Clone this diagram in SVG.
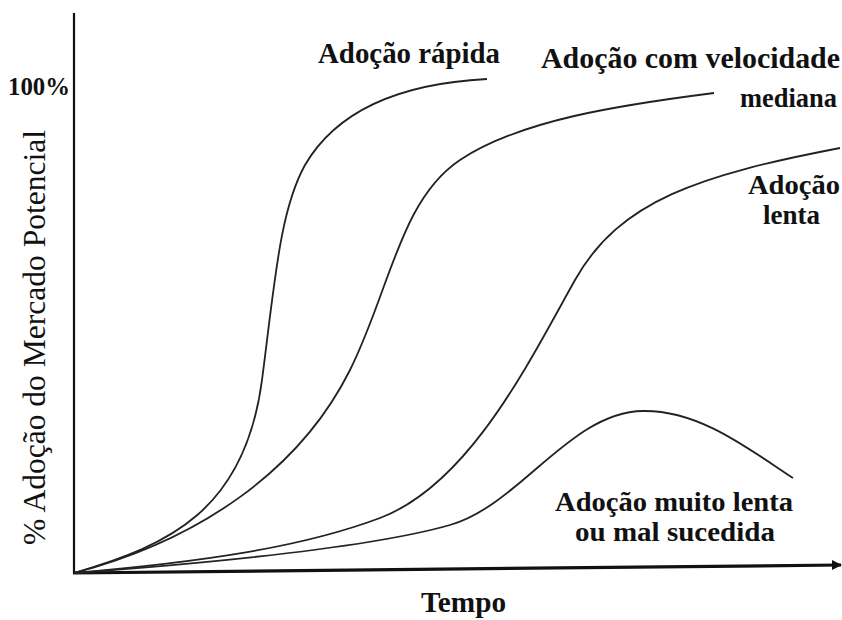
<svg xmlns="http://www.w3.org/2000/svg" width="842" height="620" viewBox="0 0 842 620">
<defs>
<style>
text{font-family:'Liberation Serif','Times New Roman',serif;fill:#111}
.lbl{font-weight:bold;font-size:29px}
.two{font-size:27px}
.ax{font-size:31px}
.curve{fill:none;stroke:#222;stroke-width:1.8}
.axis{fill:none;stroke:#111}
</style>
<marker id="arr" viewBox="0 0 10 10" refX="9" refY="5" markerWidth="10" markerHeight="14" markerUnits="userSpaceOnUse" orient="auto">
<path d="M0,0 L10,5 L0,10 Z" fill="#111"/>
</marker>
</defs>
<rect width="842" height="620" fill="#fff"/>
<g id="axes">
<line class="axis" x1="74" y1="13" x2="74" y2="574" stroke-width="2.2"/>
<line class="axis" x1="73" y1="573" x2="841" y2="565" stroke-width="3.2" marker-end="url(#arr)"/>
</g>
<g id="curves">
<path id="c-rapida" class="curve" d="M74,573 C170,545 245,510 262,380 C275,280 280,210 305,165 C340,105 410,83 487,79"/>
<path id="c-mediana" class="curve" d="M74,573 C200,540 300,470 350,370 C390,290 400,200 460,160 C520,120 620,105 714,93"/>
<path id="c-lenta" class="curve" d="M74,573 C200,562 300,548 380,518 C470,484 530,360 575,280 C620,200 700,175 840,148"/>
<path id="c-mal" class="curve" d="M74,573 C250,560 380,545 450,525 C520,505 570,412 643,411 C700,410 750,450 793,478"/>
</g>
<g id="labels">
<text class="lbl" x="318" y="63" textLength="182" lengthAdjust="spacingAndGlyphs">Adoção rápida</text>
<text class="lbl" x="541" y="68" textLength="299" lengthAdjust="spacingAndGlyphs">Adoção com velocidade</text>
<text class="lbl two" x="740" y="107" textLength="97" lengthAdjust="spacingAndGlyphs">mediana</text>
<text class="lbl two" x="748" y="194" textLength="92" lengthAdjust="spacingAndGlyphs">Adoção</text>
<text class="lbl two" x="763" y="224" textLength="57" lengthAdjust="spacingAndGlyphs">lenta</text>
<text class="lbl two" x="555" y="511" textLength="238" lengthAdjust="spacingAndGlyphs">Adoção muito lenta</text>
<text class="lbl two" x="575" y="541" textLength="200" lengthAdjust="spacingAndGlyphs">ou mal sucedida</text>
<text class="lbl" x="8" y="95" style="font-size:25px" textLength="62" lengthAdjust="spacingAndGlyphs">100%</text>
<text class="lbl" x="421" y="612" textLength="85" lengthAdjust="spacingAndGlyphs">Tempo</text>
<text class="ax" transform="translate(45,545) rotate(-90)" x="0" y="0" textLength="415" lengthAdjust="spacingAndGlyphs">% Adoção do Mercado Potencial</text>
</g>
</svg>
